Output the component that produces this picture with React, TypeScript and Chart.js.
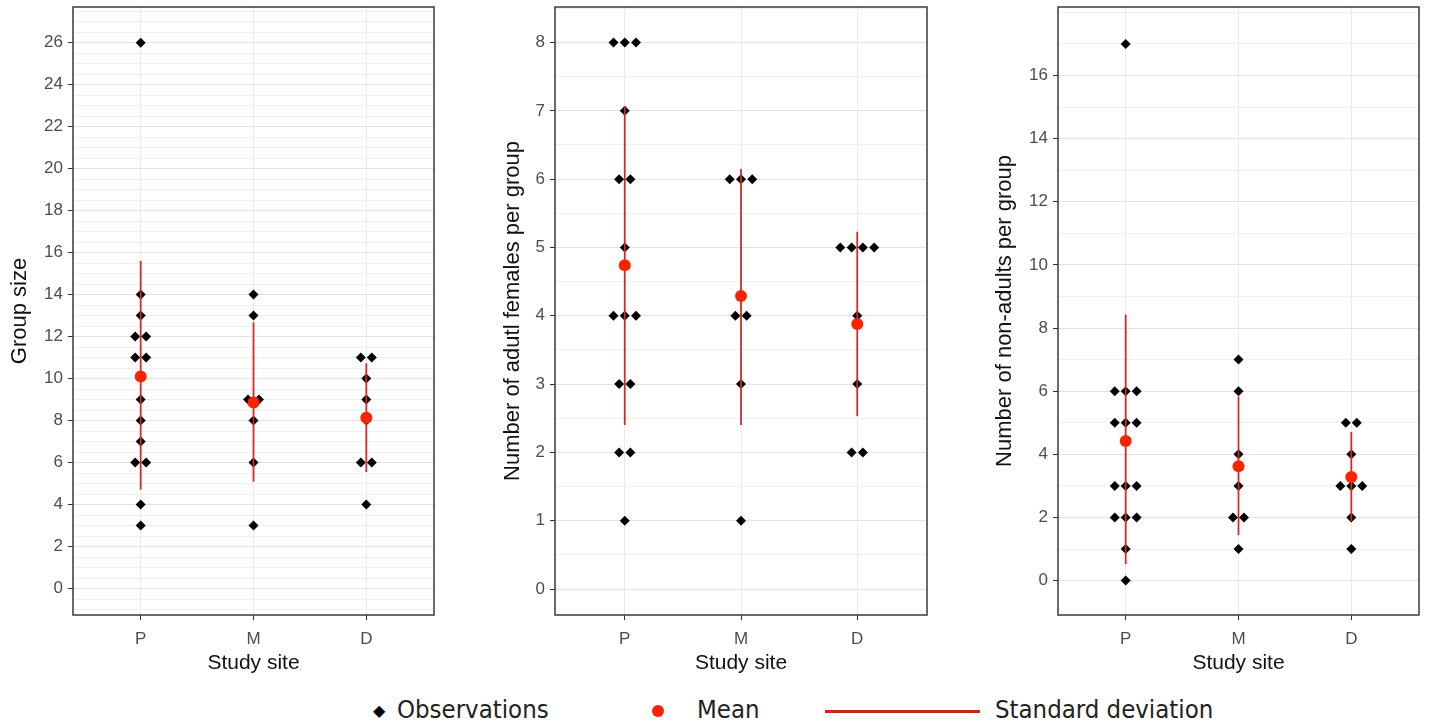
import React, { useEffect, useRef } from 'react';
import { Chart, registerables } from 'chart.js';

Chart.register(...registerables);

// ---------- data ----------
const sites = ['P', 'M', 'D'];

// Panel 1: group size
const groupSizeP = [26, 14, 13, 12, 12, 11, 11, 9, 8, 7, 6, 6, 4, 3];
const groupSizeM = [14, 13, 9, 9, 8, 6, 3];
const groupSizeD = [11, 11, 10, 9, 8, 6, 6, 4];
const groupSizeMean = [10.1, 8.86, 8.13];
const groupSizeSdLow = [4.71, 5.09, 5.55];
const groupSizeSdHigh = [15.61, 12.68, 10.73];
const groupSizeTicks = [-1, -0.5, 0, 0.5, 1, 1.5, 2, 2.5, 3, 3.5, 4, 4.5, 5, 5.5, 6, 6.5, 7, 7.5, 8, 8.5, 9, 9.5, 10, 10.5, 11, 11.5, 12, 12.5, 13, 13.5, 14, 14.5, 15, 15.5, 16, 16.5, 17, 17.5, 18, 18.5, 19, 19.5, 20, 20.5, 21, 21.5, 22, 22.5, 23, 23.5, 24, 24.5, 25, 25.5, 26, 26.5, 27, 27.5];
const groupSizeLabels = [0, 2, 4, 6, 8, 10, 12, 14, 16, 18, 20, 22, 24, 26];

// Panel 2: adult females per group
const femalesP = [8, 8, 8, 7, 6, 6, 5, 4, 4, 4, 3, 3, 2, 2, 1];
const femalesM = [6, 6, 6, 4, 4, 3, 1];
const femalesD = [5, 5, 5, 5, 4, 3, 2, 2];
const femalesMean = [4.74, 4.29, 3.88];
const femalesSdLow = [2.4, 2.4, 2.53];
const femalesSdHigh = [7.07, 6.15, 5.23];
const femalesTicks = [0, 0.5, 1, 1.5, 2, 2.5, 3, 3.5, 4, 4.5, 5, 5.5, 6, 6.5, 7, 7.5, 8, 8.5];
const femalesLabels = [0, 1, 2, 3, 4, 5, 6, 7, 8];

// Panel 3: non-adults per group
const nonAdultsP = [17, 6, 6, 6, 5, 5, 5, 3, 3, 3, 2, 2, 2, 1, 0];
const nonAdultsM = [7, 6, 4, 3, 2, 2, 1];
const nonAdultsD = [5, 5, 4, 3, 3, 3, 2, 1];
const nonAdultsMean = [4.42, 3.62, 3.28];
const nonAdultsSdLow = [0.52, 1.44, 1.89];
const nonAdultsSdHigh = [8.43, 5.83, 4.71];
const nonAdultsTicks = [0, 1, 2, 3, 4, 5, 6, 7, 8, 9, 10, 11, 12, 13, 14, 15, 16, 17, 18];
const nonAdultsLabels = [0, 2, 4, 6, 8, 10, 12, 14, 16];

// ---------- styling ----------
const FONT = "'Liberation Sans', Arial, sans-serif";
const DOT_GAP = 0.097;

function dodge(groups: number[][]) {
  const pts: { x: number; y: number }[] = [];
  groups.forEach((vals, gi) => {
    const counts = new Map<number, number>();
    vals.forEach((v) => counts.set(v, (counts.get(v) || 0) + 1));
    counts.forEach((n, v) => {
      for (let i = 0; i < n; i++) {
        pts.push({ x: gi + 1 + (i - (n - 1) / 2) * DOT_GAP, y: v });
      }
    });
  });
  return pts;
}

const framePlugin = {
  id: 'panelFrame',
  afterDatasetsDraw(chart: any) {
    const { ctx, chartArea: a } = chart;
    ctx.save();
    ctx.strokeStyle = '#3a3a3a';
    ctx.lineWidth = 1.5;
    ctx.strokeRect(a.left, a.top, a.right - a.left, a.bottom - a.top);
    ctx.restore();
  },
};

type PanelProps = {
  left: number;
  width: number;
  yAxisWidth: number;
  titlePad: number;
  yTitle: string;
  yMin: number;
  yMax: number;
  ticks: number[];
  labels: number[];
  groups: number[][];
  mean: number[];
  sdLow: number[];
  sdHigh: number[];
};

const CANVAS_H = 680;

function Panel(p: PanelProps) {
  const ref = useRef<HTMLCanvasElement>(null);
  useEffect(() => {
    if (!ref.current) return;
    const isLabel = (v: number) => p.labels.some((l) => Math.abs(l - v) < 1e-9);
    const chart = new Chart(ref.current, {
      type: 'scatter',
      data: {
        datasets: [
          {
            label: 'Mean',
            data: sites.map((_, i) => ({ x: i + 1, y: p.mean[i] })),
            backgroundColor: '#FF2200',
            borderWidth: 0,
            pointRadius: 6,
            pointStyle: 'circle',
          } as any,
          ...sites.map((s, i) => ({
            label: 'SD ' + s,
            data: [
              { x: i + 1, y: p.sdLow[i] },
              { x: i + 1, y: p.sdHigh[i] },
            ],
            showLine: true,
            borderColor: '#D42A26',
            borderWidth: 1.8,
            pointRadius: 0,
          })),
          {
            label: 'Observations',
            data: dodge(p.groups),
            backgroundColor: '#000000',
            borderWidth: 0,
            pointRadius: 5,
            pointStyle: 'rectRot',
          } as any,
        ],
      },
      options: {
        animation: false,
        responsive: false,
        layout: { padding: { top: 7, right: 6, left: 0, bottom: 0 } },
        plugins: { legend: { display: false }, tooltip: { enabled: false } },
        scales: {
          x: {
            type: 'linear',
            min: 0.4,
            max: 3.6,
            afterBuildTicks: (s: any) => {
              s.ticks = [1, 2, 3].map((v) => ({ value: v }));
            },
            afterFit: (s: any) => {
              s.height = CANVAS_H - 615;
              s.paddingLeft = 0;
              s.paddingRight = 0;
            },
            ticks: {
              autoSkip: false,
              maxRotation: 0,
              padding: 9,
              color: '#4D4D4D',
              font: { family: FONT, size: 17 },
              callback: (v: any) => sites[Math.round(Number(v)) - 1] ?? '',
            },
            grid: {
              color: '#EAEAEA',
              lineWidth: 1,
              tickLength: 5,
              tickColor: '#333333',
              tickWidth: 1,
            },
            border: { display: false },
            title: {
              display: true,
              text: 'Study site',
              color: '#111111',
              font: { family: FONT, size: 21 },
              padding: { top: 0, bottom: 4 },
            },
          },
          y: {
            type: 'linear',
            min: p.yMin,
            max: p.yMax,
            afterBuildTicks: (s: any) => {
              s.ticks = p.ticks.map((v) => ({ value: v }));
            },
            afterFit: (s: any) => {
              s.width = p.yAxisWidth;
              s.paddingTop = 0;
              s.paddingBottom = 0;
            },
            ticks: {
              autoSkip: false,
              padding: 5,
              color: '#4D4D4D',
              font: { family: FONT, size: 17 },
              callback: (v: any) => (isLabel(Number(v)) ? String(v) : ''),
            },
            grid: {
              color: (ctx: any) => (ctx.tick && isLabel(ctx.tick.value) ? '#E2E2E2' : '#EFEFEF'),
              lineWidth: 1,
              tickLength: 5,
              tickColor: (ctx: any) => (ctx.tick && isLabel(ctx.tick.value) ? '#333333' : 'rgba(0,0,0,0)'),
              tickWidth: 1,
            },
            border: { display: false },
            title: {
              display: true,
              text: p.yTitle,
              color: '#111111',
              font: { family: FONT, size: 22 },
              padding: { top: p.titlePad, bottom: 0 },
            },
          },
        },
      } as any,
      plugins: [framePlugin],
    });
    return () => chart.destroy();
  }, []);
  return (
    <canvas
      ref={ref}
      width={p.width}
      height={CANVAS_H}
      style={{ position: 'absolute', left: p.left, top: 0, width: p.width, height: CANVAS_H }}
    />
  );
}

const legendFont = "'Liberation Sans Narrow', 'DejaVu Sans Condensed', 'Liberation Sans', sans-serif";
const legendText = { position: 'absolute' as const, top: 694, fontSize: 25.5, lineHeight: '30px', color: '#222', fontFamily: legendFont, whiteSpace: 'nowrap' as const };

export default function App() {
  return (
    <div style={{ position: 'absolute', left: 0, top: 0, width: 1430, height: 725, background: '#fff', overflow: 'hidden' }}>
      <Panel
        left={0}
        width={440}
        yAxisWidth={73}
        titlePad={7}
        yTitle="Group size"
        yMin={-1.26}
        yMax={27.7}
        ticks={groupSizeTicks}
        labels={groupSizeLabels}
        groups={[groupSizeP, groupSizeM, groupSizeD]}
        mean={groupSizeMean}
        sdLow={groupSizeSdLow}
        sdHigh={groupSizeSdHigh}
      />
      <Panel
        left={480}
        width={453}
        yAxisWidth={75}
        titlePad={20}
        yTitle="Number of adutl females per group"
        yMin={-0.38}
        yMax={8.52}
        ticks={femalesTicks}
        labels={femalesLabels}
        groups={[femalesP, femalesM, femalesD]}
        mean={femalesMean}
        sdLow={femalesSdLow}
        sdHigh={femalesSdHigh}
      />
      <Panel
        left={960}
        width={465}
        yAxisWidth={98}
        titlePad={32}
        yTitle="Number of non-adults per group"
        yMin={-1.09}
        yMax={18.17}
        ticks={nonAdultsTicks}
        labels={nonAdultsLabels}
        groups={[nonAdultsP, nonAdultsM, nonAdultsD]}
        mean={nonAdultsMean}
        sdLow={nonAdultsSdLow}
        sdHigh={nonAdultsSdHigh}
      />
      {/* legend */}
      <div style={{ position: 'absolute', left: 373, top: 701, fontSize: 16, lineHeight: '20px', color: '#000', fontFamily: "'DejaVu Sans', sans-serif" }}>◆</div>
      <div style={{ ...legendText, left: 397 }}>Observations</div>
      <div style={{ position: 'absolute', left: 652, top: 705, width: 12, height: 12, borderRadius: 6, background: '#FF2200' }} />
      <div style={{ ...legendText, left: 697 }}>Mean</div>
      <div style={{ position: 'absolute', left: 825, top: 710, width: 155, height: 3, background: '#BE2A22' }} />
      <div style={{ ...legendText, left: 995 }}>Standard deviation</div>
    </div>
  );
}
